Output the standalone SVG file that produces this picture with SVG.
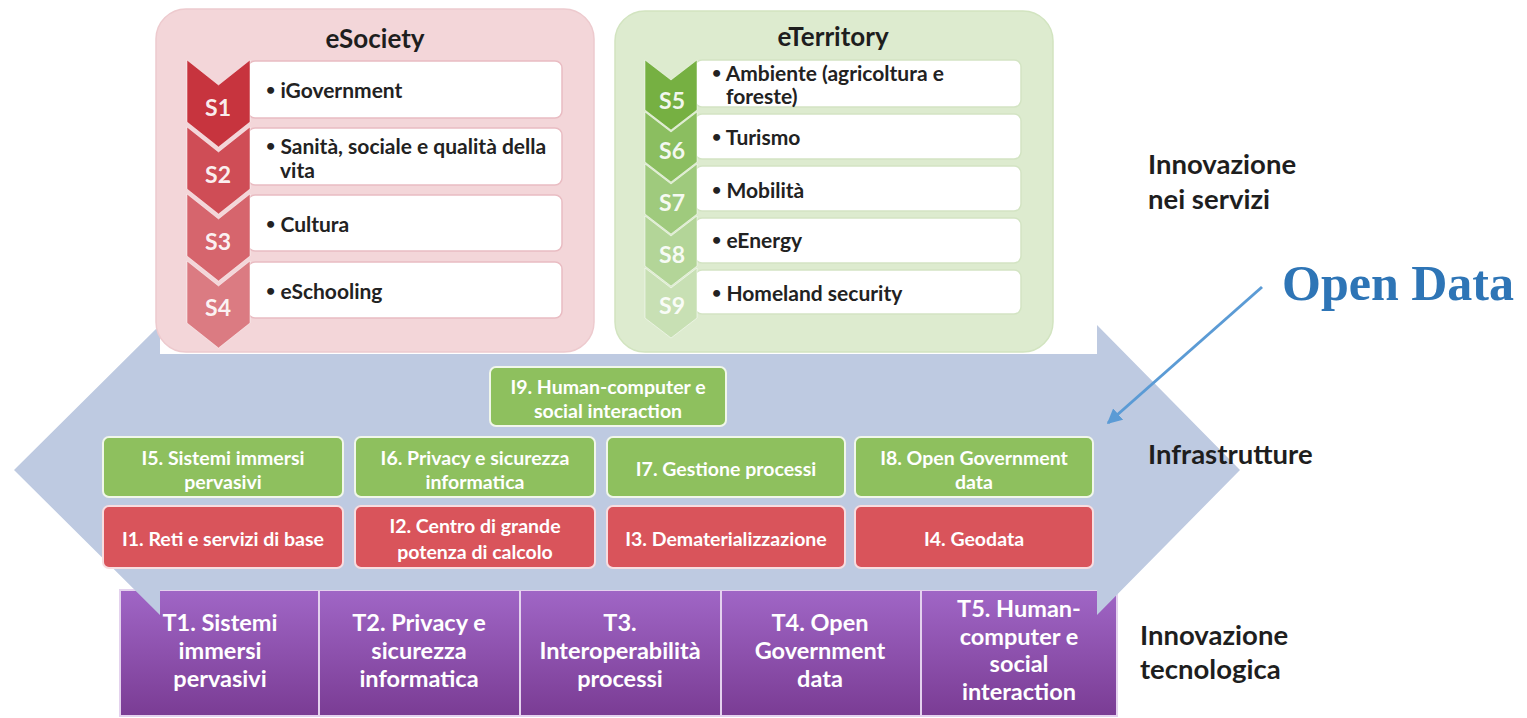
<svg xmlns="http://www.w3.org/2000/svg" width="1527" height="718" viewBox="0 0 1527 718">
<defs>
<linearGradient id="purple" x1="0" y1="0" x2="0" y2="1">
<stop offset="0" stop-color="#A066C6"/>
<stop offset="1" stop-color="#7A3C94"/>
</linearGradient>
<marker id="ah" viewBox="0 0 10 10" refX="9" refY="5" markerWidth="5" markerHeight="5" orient="auto">
<path d="M0,0 L10,5 L0,10 z" fill="#5B9BD5"/>
</marker>
<style>
text{font-family:Lato,"Open Sans","Liberation Sans",sans-serif;font-weight:bold}
.title{font-size:26px;fill:#1e1e1e;text-anchor:middle}
.item{font-size:21px;fill:#222}
.b{font-size:16px;baseline-shift:3px}
.slab{font-size:23px;fill:#fff;text-anchor:middle;fill-opacity:0.92}
.ibox{font-size:19.5px;fill:#fff;text-anchor:middle}
.tlab{font-size:23.5px;fill:#fff;text-anchor:middle}
.side{font-size:27.5px;fill:#1e1e1e}
.green{fill:#8EC05E;stroke:#F1F7EA;stroke-width:2}
.red{fill:#D9545B;stroke:#F8DDE0;stroke-width:2}
.wbox1{fill:#fff;stroke:#E9BCC2;stroke-width:1.5}
.wbox2{fill:#fff;stroke:#D3E4C3;stroke-width:1.5}
.chev{stroke:#fff;stroke-opacity:0.5;stroke-width:1}
.cell{fill:url(#purple);stroke:#E4D2EE;stroke-width:2}
</style>
</defs>
<rect width="1527" height="718" fill="#fff"/>

<g id="technology-row">
<rect class="cell" x="120" y="590" width="199" height="126"/>
<rect class="cell" x="319" y="590" width="201" height="126"/>
<rect class="cell" x="520" y="590" width="201" height="126"/>
<rect class="cell" x="721" y="590" width="200" height="126"/>
<rect class="cell" x="921" y="590" width="196" height="126"/>
</g>

<g id="infrastructure-arrow">
<polygon points="14,470 160,325 160,354 1097,354 1097,325 1240,470 1097,615 1097,590 160,590 160,615" fill="#BECAE1"/>
</g>

<g id="T1"><text class="tlab"><tspan x="220" y="631">T1. Sistemi</tspan><tspan x="220" y="659">immersi</tspan><tspan x="220" y="687">pervasivi</tspan></text></g>
<g id="T2"><text class="tlab"><tspan x="419" y="631">T2. Privacy e</tspan><tspan x="419" y="659">sicurezza</tspan><tspan x="419" y="687">informatica</tspan></text></g>
<g id="T3"><text class="tlab"><tspan x="620" y="631">T3.</tspan><tspan x="620" y="659">Interoperabilità</tspan><tspan x="620" y="687">processi</tspan></text></g>
<g id="T4"><text class="tlab"><tspan x="820" y="631">T4. Open</tspan><tspan x="820" y="659">Government</tspan><tspan x="820" y="687">data</tspan></text></g>
<g id="T5"><text class="tlab"><tspan x="1019" y="617">T5. Human-</tspan><tspan x="1019" y="645">computer e</tspan><tspan x="1019" y="672">social</tspan><tspan x="1019" y="700">interaction</tspan></text></g>

<g id="eSociety">
<rect x="156" y="9" width="438" height="343" rx="30" fill="#F3D6D9" stroke="#EDCACE" stroke-width="1.5"/>
<text class="title" x="375" y="48">eSociety</text>
<rect class="wbox1" x="248" y="61" width="314" height="57" rx="7"/>
<rect class="wbox1" x="248" y="128" width="314" height="57" rx="7"/>
<rect class="wbox1" x="248" y="195" width="314" height="56" rx="7"/>
<rect class="wbox1" x="248" y="262" width="314" height="56" rx="7"/>
<polygon class="chev" fill="#DB7B82" points="187,261 218.5,286 250,261 250,323 218.5,348 187,323"/>
<polygon class="chev" fill="#D6656D" points="187,194 218.5,219 250,194 250,256 218.5,281 187,256"/>
<polygon class="chev" fill="#CF4D56" points="187,127 218.5,152 250,127 250,189 218.5,214 187,189"/>
<polygon class="chev" fill="#C7343E" points="187,60 218.5,85 250,60 250,122 218.5,147 187,122"/>
<text class="slab" x="218" y="116">S1</text>
<text class="slab" x="218" y="183">S2</text>
<text class="slab" x="218" y="250">S3</text>
<text class="slab" x="218" y="316">S4</text>
<text class="item" x="266" y="98"><tspan class="b">•</tspan> iGovernment</text>
<text class="item"><tspan x="266" y="154"><tspan class="b">•</tspan> Sanità, sociale e qualità della</tspan><tspan x="280" y="178">vita</tspan></text>
<text class="item" x="266" y="232"><tspan class="b">•</tspan> Cultura</text>
<text class="item" x="266" y="299"><tspan class="b">•</tspan> eSchooling</text>
</g>

<g id="eTerritory">
<rect x="615" y="11" width="438" height="341" rx="30" fill="#DDEBCF" stroke="#D2E4C0" stroke-width="1.5"/>
<text class="title" x="833" y="46">eTerritory</text>
<rect class="wbox2" x="695" y="60" width="326" height="47" rx="7"/>
<rect class="wbox2" x="695" y="114" width="326" height="45" rx="7"/>
<rect class="wbox2" x="695" y="166" width="326" height="45" rx="7"/>
<rect class="wbox2" x="695" y="218" width="326" height="45" rx="7"/>
<rect class="wbox2" x="695" y="270" width="326" height="44" rx="7"/>
<polygon class="chev" fill="#C8E0B4" points="645,268 671,288 697,268 697,318 671,338 645,318"/>
<polygon class="chev" fill="#B3D598" points="645,216 671,236 697,216 697,266 671,286 645,266"/>
<polygon class="chev" fill="#9FCA7D" points="645,164 671,184 697,164 697,214 671,234 645,214"/>
<polygon class="chev" fill="#8BBE60" points="645,112 671,132 697,112 697,162 671,182 645,162"/>
<polygon class="chev" fill="#76B042" points="645,60 671,80 697,60 697,110 671,130 645,110"/>
<text class="slab" x="672" y="109">S5</text>
<text class="slab" x="672" y="159">S6</text>
<text class="slab" x="672" y="211">S7</text>
<text class="slab" x="672" y="263">S8</text>
<text class="slab" x="672" y="314">S9</text>
<text class="item"><tspan x="712" y="81"><tspan class="b">•</tspan> Ambiente (agricoltura e</tspan><tspan x="726" y="104">foreste)</tspan></text>
<text class="item" x="712" y="145"><tspan class="b">•</tspan> Turismo</text>
<text class="item" x="712" y="198"><tspan class="b">•</tspan> Mobilità</text>
<text class="item" x="712" y="248"><tspan class="b">•</tspan> eEnergy</text>
<text class="item" x="712" y="301"><tspan class="b">•</tspan> Homeland security</text>
</g>

<g id="I9"><rect class="green" x="490" y="367" width="236" height="59" rx="6"/><text class="ibox"><tspan x="608" y="394">I9. Human-computer e</tspan><tspan x="608" y="418">social interaction</tspan></text></g>
<g id="I5"><rect class="green" x="103" y="437" width="240" height="60" rx="6"/><text class="ibox"><tspan x="223" y="465">I5. Sistemi immersi</tspan><tspan x="223" y="489">pervasivi</tspan></text></g>
<g id="I6"><rect class="green" x="355" y="437" width="240" height="60" rx="6"/><text class="ibox"><tspan x="475" y="465">I6. Privacy e sicurezza</tspan><tspan x="475" y="489">informatica</tspan></text></g>
<g id="I7"><rect class="green" x="607" y="437" width="238" height="60" rx="6"/><text class="ibox" x="726" y="476">I7. Gestione processi</text></g>
<g id="I8"><rect class="green" x="855" y="437" width="238" height="60" rx="6"/><text class="ibox"><tspan x="974" y="465">I8. Open Government</tspan><tspan x="974" y="489">data</tspan></text></g>
<g id="I1"><rect class="red" x="103" y="506" width="240" height="62" rx="6"/><text class="ibox" x="223" y="546">I1. Reti e servizi di base</text></g>
<g id="I2"><rect class="red" x="355" y="506" width="240" height="62" rx="6"/><text class="ibox"><tspan x="475" y="533">I2. Centro di grande</tspan><tspan x="475" y="559">potenza di calcolo</tspan></text></g>
<g id="I3"><rect class="red" x="607" y="506" width="238" height="62" rx="6"/><text class="ibox" x="726" y="546">I3. Dematerializzazione</text></g>
<g id="I4"><rect class="red" x="855" y="506" width="238" height="62" rx="6"/><text class="ibox" x="974" y="546">I4. Geodata</text></g>

<g id="labels">
<text class="side"><tspan x="1148" y="174">Innovazione</tspan><tspan x="1148" y="209">nei servizi</tspan></text>
<text class="side" x="1148" y="464">Infrastrutture</text>
<text class="side"><tspan x="1140" y="645">Innovazione</tspan><tspan x="1140" y="679">tecnologica</tspan></text>
</g>

<g id="open-data">
<text x="1282" y="300" style="font-family:'Liberation Serif','DejaVu Serif',serif;font-size:50px;font-weight:bold;fill:#2E75B6">Open Data</text>
</g>

<g id="connectors">
<line x1="1262" y1="287" x2="1108" y2="423" stroke="#5B9BD5" stroke-width="3" marker-end="url(#ah)"/>
</g>
</svg>
